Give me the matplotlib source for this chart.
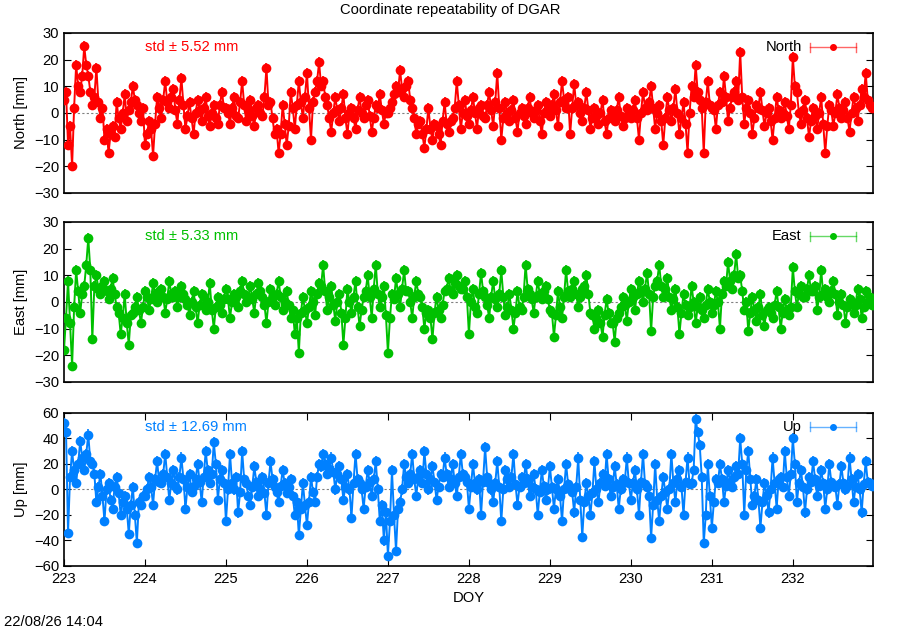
import numpy as np
import matplotlib
matplotlib.use("Agg")
import matplotlib.pyplot as plt

plt.rcParams['font.family'] = ['Liberation Sans', 'DejaVu Sans']

# sampling: day of year, one reading every 0.05 day (a) plus readings in between (b)
doy_a = 223 + 0.05 * np.arange(200)
doy_b = doy_a + 0.025

# North component [mm]
north_a = [
    5, -12, -20, 18, 8, 25, 14, 3, 17, -2, -10, -15, -5, 4, -6, 7, 1, 10, 3, -3,
    -12, -3, -16, 6, -2, 12, 2, 9, -4, 13, -6, 4, -8, 5, -3, 6, -5, 3, -4, 8,
    2, -4, 6, -2, 12, -3, 5, -5, 3, -1, 17, 4, -8, -15, 3, -12, 8, -6, 12, -2,
    15, -10, 8, 19, 12, 3, -7, 6, -3, 7, -8, 2, -6, 6, -2, 5, -7, 3, 7, -4,
    0, 4, 10, 16, 6, 12, 2, -8, -3, -13, 2, -10, -5, -12, 4, -7, -2, 12, -6, 5,
    -4, 6, -6, 3, -2, 8, -5, 15, -10, 4, -3, 5, -7, 2, -4, 6, -2, 3, -8, 4,
    -1, 7, -5, 12, 2, -8, 11, 4, -3, 8, -6, 2, -4, 5, -8, 1, -3, 6, -5, 2,
    -2, 5, -10, 8, 1, 10, -6, 3, -12, 6, -3, 9, -8, 4, -15, 10, 18, 5, -15, 12,
    2, -6, 8, 14, -3, 6, 12, 23, -4, 5, -8, 3, 8, -5, 2, -10, 6, -2, 4, -6,
    21, 8, -4, 5, -9, 2, -6, 6, -15, 3, -5, 7, -2, 4, -7, 6, -3, 9, 15, 3,
]
north_b = [
    8, -5, 2, 10, 14, 18, 8, 6, 4, 2, -6, -8, -9, -2, 0, -3, 4, 5, 0, 2,
    -8, -6, -4, 2, 5, 4, 6, 1, 5, 3, -1, -2, 0, 1, 2, -1, 0, -2, 3, 2,
    0, 2, -1, 4, 3, 1, -1, 2, 0, 6, 3, -2, -6, -8, -4, -5, 2, 3, 4, 6,
    2, 4, 12, 10, 6, -2, 0, 1, 2, -2, 0, -2, 1, 0, 3, -1, -2, 2, 1, 0,
    2, 7, 8, 9, 10, 5, -2, -4, -8, -6, -6, -4, -8, -3, -4, -3, 2, 3, 0, -1,
    1, 0, 2, -1, 3, 1, 4, 2, -2, 0, 1, -2, 0, -1, 2, 0, 1, -3, 0, 1,
    3, 1, 4, 5, 6, 2, 3, 0, 2, 1, -2, -1, 0, -3, -2, -2, 1, -1, -2, 0,
    1, -2, 0, 2, 4, 2, 0, -3, -2, 1, 2, 0, -2, -4, 0, 6, 8, 2, 4, 3,
    1, 3, 4, 6, 2, 8, 5, 6, 2, 0, -2, 2, 1, 0, -3, -2, 1, 0, -1, 3,
    10, 0, 1, -2, -3, -1, 0, -4, -5, 1, 0, 2, 1, -2, 0, 2, 3, 6, 5, 2,
]

# East component [mm]
east_a = [
    -18, 8, -24, 12, -4, 6, 24, -14, 10, 3, 8, 1, 9, -2, -12, 3, -16, -4, 2, -8,
    4, -3, 7, 0, 5, -4, 8, 2, -2, 6, 1, -5, 4, -8, 3, -3, 7, -10, 2, -4,
    5, -6, 3, -2, 8, 0, 6, -4, 7, 2, -8, 5, -1, 8, -3, 4, -6, -12, -19, 2,
    -8, 4, -5, 7, 14, -3, 6, -7, 3, -16, 5, -4, 8, -9, 2, 10, -6, 14, -2, 6,
    -19, 3, 9, -2, 12, 4, -6, 8, 2, -10, -3, -14, 2, -6, 4, 9, 3, 10, 5, 8,
    -12, 5, -4, 11, 2, -6, 8, -2, 12, -5, 3, -10, 4, -3, 14, 3, -4, 8, 1, 6,
    -3, -13, 4, -6, 12, 2, 8, -2, 5, 10, -4, -10, -3, -13, 1, -8, -15, -4, 2, -7,
    5, -3, 8, 0, 11, -11, 6, 14, 2, 9, -3, 5, -12, 3, -5, 6, -8, 2, -6, 5,
    -4, 4, -10, 8, 15, 5, 18, 10, -3, -11, 2, -7, 3, -9, -2, -6, 4, -10, 1, -5,
    13, -2, 6, 2, 10, 4, -3, 12, 5, 0, 8, -5, 3, -8, 1, -4, 5, -6, 4, 2,
]
east_b = [
    -6, -8, -2, 4, 3, 14, 12, 6, 5, 6, 4, 5, 3, -4, -6, -8, -5, -2, -3, -2,
    2, 1, 3, 4, 2, 1, 3, 4, 2, 3, -1, 0, -2, -1, 2, 0, -3, -2, -1, 1,
    1, 0, 2, 4, 3, 2, 1, 3, 4, -1, 0, 2, 3, 2, 0, -1, -3, -6, -4, -3,
    -2, 0, 3, 6, 4, 2, -1, 0, -4, -6, 0, 2, -2, -3, 4, 2, 5, 3, 2, -5,
    -6, 1, 3, 5, 4, 0, 2, 3, -2, -4, -6, -4, -3, -1, 5, 4, 7, 6, 5, 2,
    0, -2, 3, 4, -1, 2, 1, 3, 2, -2, -3, -4, -2, 2, 5, 1, 2, 3, 4, 1,
    -4, -5, -2, 2, 4, 5, 3, 2, 6, 3, -5, -6, -8, -5, -4, -8, -6, -2, -1, 0,
    2, 3, 4, 5, 3, 2, 8, 6, 5, 2, 1, -2, -4, -1, -2, 0, -2, -3, -1, 0,
    -1, 0, 3, 6, 8, 10, 9, 4, 0, -4, -3, -2, -5, -3, -4, -1, -2, -4, -3, -2,
    4, 3, 2, 5, 4, 6, 2, 3, 2, 4, 3, 0, -1, -2, 0, -1, 1, -2, 0, -1,
]

# Up component [mm]
up_a = [
    52, -34, 30, 5, 38, 15, 43, 20, -10, 12, -25, 5, -15, 10, -20, -5, -35, 2, -42, -12,
    -5, 10, -12, 22, 5, 28, -8, 15, 0, 25, -15, 12, 3, 20, -10, 30, 5, 37, -8, 15,
    -25, 28, 0, -18, 30, 5, -12, 18, -5, 10, -20, 22, 2, -10, 15, -3, 8, -20, -36, 5,
    -28, 10, -10, 20, 28, 12, 25, 0, 18, -8, 12, -22, 28, 5, -15, 15, -5, 22, -25, -40,
    -52, 15, -48, -10, 20, 5, 28, -5, 15, 30, 0, 18, -8, 12, 25, 2, 20, -5, 28, 10,
    -15, 20, 0, -20, 33, 5, -10, 22, -25, 15, 2, 28, -12, 10, 20, -5, 12, -20, 15, -8,
    18, -15, 8, -25, 20, 0, -18, 25, -37, 5, -20, 22, -10, 12, 28, -5, 18, -15, 8, 25,
    -8, 15, -20, 28, 2, -38, 20, -25, 10, -15, 28, -10, 15, -20, 25, 5, 55, 35, -42, 20,
    -30, 8, 20, -10, 15, 2, 18, 40, -20, 30, -12, 8, -30, 5, -18, 25, -15, 10, 30, -5,
    40, -10, 15, -18, 10, 22, -5, 15, -15, 20, 3, -12, 18, 0, 25, -10, 12, -18, 22, 5,
]
up_b = [
    45, 10, 15, 20, 25, 28, 22, 12, 2, -5, 0, -8, 2, -3, -10, -15, -12, -20, -10, -5,
    0, 2, 8, 6, 12, 10, 5, 3, 10, 8, 2, -2, 8, 6, 10, 15, 12, 20, 8, 5,
    0, 5, 10, -2, 8, -5, 2, 6, 0, -3, 5, 8, -2, 3, 5, 2, -5, -10, -15, -12,
    -10, -2, 10, 18, 20, 16, 14, 12, 8, 2, 0, 5, 8, 0, 2, 6, 8, 0, -12, -18,
    -25, -20, -15, 0, 10, 12, 8, 10, 5, 12, 8, 6, 2, 10, 12, 8, 5, 10, 12, 6,
    2, 5, 8, 6, 10, 0, 5, 2, 0, 8, 10, 4, 2, 5, 8, 2, 0, -2, 3, 0,
    2, 0, -5, 0, 4, -2, 2, -8, -10, -5, -3, 0, 5, 3, 8, 2, 4, 0, 6, 5,
    5, 0, 6, 4, -5, -12, -8, -5, -2, 0, 5, 8, 2, 6, 4, 15, 45, 10, -20, -5,
    -10, 5, 8, 3, 6, 10, 12, 20, 15, 8, -5, -8, -10, -4, 0, 5, 8, 2, 10, 12,
    20, 5, 2, 0, 6, 8, 3, 5, 0, 6, 2, 4, 5, 3, 8, 2, 0, 4, 6, 3,
]

# formal errors [mm]
north_err = 1.8
east_err = 1.8
up_err = 4.0

names = ['North', 'East', 'Up']
ylabels = ['North [mm]', 'East [mm]', 'Up [mm]']
stds = ['std \u00b1 5.52 mm', 'std \u00b1 5.33 mm', 'std \u00b1 12.69 mm']
colors = ['#ff0000', '#00c000', '#0080ff']
series = [(north_a, north_b), (east_a, east_b), (up_a, up_b)]
errs = [north_err, east_err, up_err]
ylims = [(-30, 30), (-30, 30), (-60, 60)]
ysteps = [10, 10, 20]
fs = 10.6

fig = plt.figure(figsize=(9, 6.3), dpi=100)
rects = [
    [0.0711, 0.6937, 0.8989, 0.2540],
    [0.0711, 0.3937, 0.8989, 0.2540],
    [0.0711, 0.1016, 0.8989, 0.2430],
]

for i in range(3):
    ax = fig.add_axes(rects[i])
    c = colors[i]
    # put both sets of readings in time order
    x = np.concatenate([doy_a, doy_b])
    y = np.concatenate([series[i][0], series[i][1]])
    order = np.argsort(x)
    x, y = x[order], y[order]

    ax.axhline(0, color='#808080', lw=0.8, ls=(0, (2, 2)), zorder=1)
    ax.errorbar(x, y, yerr=errs[i], color=c, ecolor=c, lw=1.4,
                elinewidth=1.2, capsize=2.8, capthick=1.2, marker='o',
                ms=7, mew=0, zorder=3)
    ax.set_xlim(223, 232.99)
    ax.set_ylim(*ylims[i])
    lo, hi = ylims[i]
    ax.set_yticks(np.arange(lo, hi + 1, ysteps[i]))
    ax.set_ylabel(ylabels[i], fontsize=fs, labelpad=4)
    ax.tick_params(axis='y', direction='in', length=5, width=0.8,
                   right=True, labelsize=fs)
    if i == 2:
        ax.set_xticks(np.arange(223, 233))
        ax.tick_params(axis='x', direction='in', length=5, width=0.8,
                       top=True, labelsize=fs, pad=4)
        ax.set_xlabel('DOY', fontsize=fs)
    else:
        ax.set_xticks([])
    for sp in ax.spines.values():
        sp.set_linewidth(1.2)

    ty = 0.91
    ax.text(0.10, ty, stds[i], color=c, fontsize=fs, transform=ax.transAxes,
            va='center', ha='left', zorder=5)
    # key
    ax.text(0.912, ty, names[i], color='black', fontsize=fs,
            transform=ax.transAxes, va='center', ha='right', zorder=5)
    ax.plot([0.922, 0.979], [ty, ty], color=c, lw=1, alpha=0.6,
            transform=ax.transAxes, clip_on=False, zorder=5)
    for xe in (0.922, 0.979):
        ax.plot([xe, xe], [ty - 0.03, ty + 0.03], color=c, lw=1, alpha=0.6,
                transform=ax.transAxes, clip_on=False, zorder=5)
    ax.plot([0.9505], [ty], 'o', color=c, ms=4, transform=ax.transAxes,
            zorder=5)

fig.text(0.5, 0.984, 'Coordinate repeatability of DGAR', ha='center',
         va='center', fontsize=fs)
fig.text(0.004, 0.012, '22/08/26 14:04', ha='left', va='center', fontsize=fs)

fig.savefig('out.png', dpi=100)
